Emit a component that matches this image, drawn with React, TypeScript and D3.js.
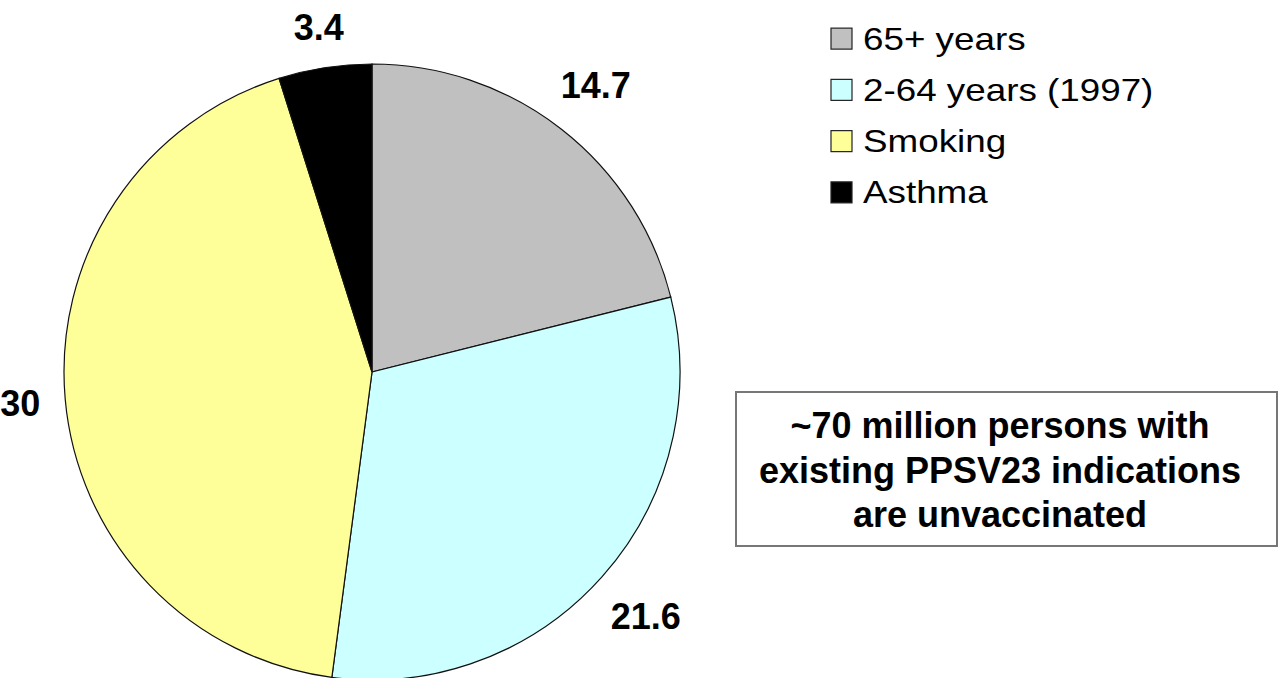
import * as d3 from "d3";
import React from "react";

const categories = ["65+ years", "2-64 years (1997)", "Smoking", "Asthma"];
const values = [14.7, 21.6, 30, 3.4];
const valueLabels = ["14.7", "21.6", "30", "3.4"];
const colors = ["#c0c0c0", "#ccffff", "#ffff99", "#000000"];
const noteLines = ["~70 million persons with", "existing PPSV23 indications", "are unvaccinated"];

const W = 1278, H = 678;
const cx = 372, cy = 372, r = 308;
const labelSize = 36;

const App: React.FC = () => {
  const pie = d3.pie<number>().sort(null).value(d => d);
  const arcs = pie(values);
  const arc = d3.arc<d3.PieArcDatum<number>>().innerRadius(0).outerRadius(r);

  const legendY = d3.scaleBand(categories, [13, 218]);

  return (
    <svg width={W} height={H} style={{ position: "absolute", left: 0, top: 0, background: "#fff" }}
      fontFamily="Arial, 'Liberation Sans', sans-serif">
      <g transform={`translate(${cx},${cy})`}>
        {arcs.map((a, i) => (
          <path key={categories[i]} d={arc(a) || ""} fill={colors[i]} stroke="#111" strokeWidth={1.2} />
        ))}
        {arcs.map((a, i) => {
          // outside label: push the text box just clear of the rim
          const mid = (a.startAngle + a.endAngle) / 2;
          const hw = valueLabels[i].replace(".", "").length * 0.556 * labelSize / 2 + (valueLabels[i].includes(".") ? 0.139 * labelSize : 0);
          const hh = 0.36 * labelSize;
          const dist = r + 24 + Math.abs(Math.sin(mid)) * hw + Math.abs(Math.cos(mid)) * hh;
          const x = Math.sin(mid) * dist;
          const y = -Math.cos(mid) * dist;
          return (
            <text key={"l" + i} x={x} y={y + hh} textAnchor="middle"
              fontSize={labelSize} fontWeight="bold" fill="#000">{valueLabels[i]}</text>
          );
        })}
      </g>
      <g>
        {categories.map((c, i) => {
          const y0 = (legendY(c) || 0) + legendY.bandwidth() / 2;
          return (
            <g key={c}>
              <rect x={831} y={y0 - 10.5} width={21} height={21} fill={colors[i]} stroke="#222" strokeWidth={1.2} />
              <text transform={`translate(863,${y0 + 11}) scale(1.15,1)`} fontSize={32} fill="#000">{c}</text>
            </g>
          );
        })}
      </g>
      <rect x={736} y={392} width={541} height={154} fill="#fff" stroke="#777" strokeWidth={2} />
      {noteLines.map((t, i) => (
        <text key={t} x={1000} y={438 + i * 44.5} textAnchor="middle"
          fontSize={36} fontWeight="bold" fill="#000">{t}</text>
      ))}
    </svg>
  );
};

export default App;
